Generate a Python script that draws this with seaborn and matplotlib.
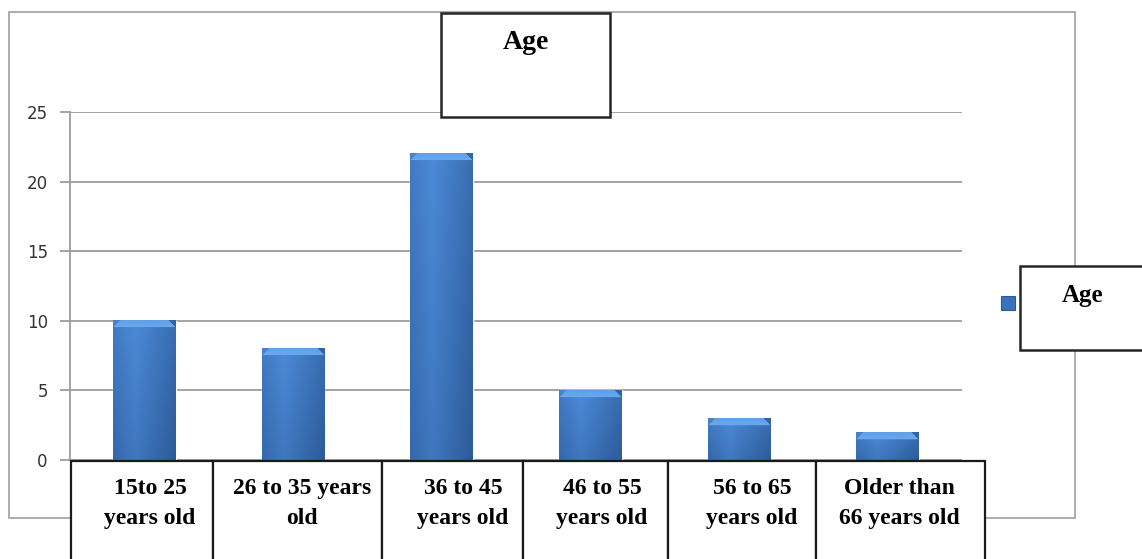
import numpy as np
import pandas as pd
import matplotlib
matplotlib.use("Agg")
import matplotlib.pyplot as plt
from matplotlib.patches import Rectangle
import seaborn as sns

# ---- data ----
categories = ["15to 25\nyears old", "26 to 35 years\nold", "36 to 45\nyears old",
              "46 to 55\nyears old", "56 to 65\nyears old", "Older than\n66 years old"]
values = [10, 8, 22, 5, 3, 2]
yticks = [0, 5, 10, 15, 20, 25]
series_name = "Age"
title = "Age"

W, H = 1142, 559
sns.set_style("white")
plt.rcParams["font.family"] = ["DejaVu Sans"]

fig = plt.figure(figsize=(W / 100, H / 100), dpi=100)
fig.patch.set_facecolor("white")

def fx(px):
    return px / W

def fy(py):
    return 1 - py / H

# outer chart border
fig.add_artist(Rectangle((fx(9), fy(518)), fx(1075) - fx(9), fy(12) - fy(518),
                         transform=fig.transFigure, fill=False,
                         edgecolor="#a6a6a6", lw=1.3, zorder=0))

ax = fig.add_axes([fx(70), fy(460), fx(962) - fx(70), fy(112) - fy(460)])
ax.set_facecolor("none")

df = pd.DataFrame({"cat": categories, "val": values})
sns.barplot(data=df, x="cat", y="val", order=categories, color="#3a72bb",
            width=0.42, ax=ax, zorder=3, saturation=1)

# gradient shading for the bars (with a soft bevel at the top)
light = np.array([0x4c, 0x8a, 0xd8]) / 255
dark = np.array([0x2c, 0x5b, 0x99]) / 255
bevel = np.array([0x68, 0xa8, 0xec]) / 255
px_per_unit = (460 - 112) / 25.0
bar_px_w = 62.0
for p in list(ax.patches):
    x0, y0 = p.get_x(), p.get_y()
    w, h = p.get_width(), p.get_height()
    if h <= 0:
        continue
    ny = max(int(h * px_per_unit), 2)
    nx = 62
    u = np.linspace(0, 1, nx)
    v = np.linspace(0, 1, ny)
    hprof = 1 - np.abs(u - 0.35) / 0.65
    t = 0.6 * hprof[None, :] + 0.4 * v[:, None]
    img = dark + (light - dark) * t[..., None]
    # trapezoid bevel, ~7 px tall
    bev_px = 7
    for k in range(min(bev_px, ny)):
        row = ny - 1 - k
        inset = bev_px - k
        frac = (k + 1) / bev_px
        c = bevel * (0.75 + 0.25 * frac) + img[row, nx // 2] * (0.25 - 0.25 * frac)
        img[row, inset:nx - inset] = c
        img[row, :inset] = img[row, :inset] * 0.85 + bevel * 0.15
        img[row, nx - inset:] = img[row, nx - inset:] * 0.9
    ax.imshow(np.clip(img, 0, 1), extent=(x0, x0 + w, y0, y0 + h), origin="lower",
              aspect="auto", zorder=4, clip_path=p, interpolation="bilinear")

ax.set_xlim(-0.5, len(categories) - 0.5)
ax.set_ylim(0, 25)
ax.set_yticks(yticks)
ax.set_yticklabels([str(t) for t in yticks])
ax.set_xticks([])
ax.set_xlabel("")
ax.set_ylabel("")
ax.grid(False)
for y in yticks:
    ax.axhline(y, color="#9c9c9c", lw=1.3, zorder=1)
for s in ["top", "right", "bottom"]:
    ax.spines[s].set_visible(False)
ax.spines["left"].set_color("#9c9c9c")
ax.spines["left"].set_linewidth(1.3)
ax.tick_params(axis="y", length=7, width=1.3, color="#9c9c9c", pad=9,
               labelsize=12, labelcolor="#333333", left=True)

# category label boxes
box_edges = [71, 213, 382, 523, 668, 816, 985]
text_x = [150, 302, 463, 602, 752, 899]
serif = ["Liberation Serif", "DejaVu Serif"]
for i, lab in enumerate(categories):
    l, r = box_edges[i], box_edges[i + 1]
    fig.add_artist(Rectangle((fx(l), fy(580)), fx(r) - fx(l), fy(461) - fy(580),
                             transform=fig.transFigure, facecolor="white",
                             edgecolor="#1a1a1a", lw=1.6, zorder=5))
    lines = lab.split("\n")
    for j, line in enumerate(lines):
        fig.text(fx(text_x[i]), fy(494 + 30 * j), line, ha="center", va="baseline",
                 fontsize=17, fontweight="bold", family=serif, color="black", zorder=6)

# title box
fig.add_artist(Rectangle((fx(441), fy(117)), fx(610) - fx(441), fy(13) - fy(117),
                         transform=fig.transFigure, facecolor="white",
                         edgecolor="#262626", lw=1.8, zorder=5))
fig.text(fx(526), fy(49), title, ha="center", va="baseline", fontsize=20,
         fontweight="bold", family=serif, color="black", zorder=6)

# legend
fig.add_artist(Rectangle((fx(1020), fy(350)), fx(1160) - fx(1020), fy(266) - fy(350),
                         transform=fig.transFigure, facecolor="white",
                         edgecolor="#262626", lw=1.8, zorder=5))
fig.add_artist(Rectangle((fx(1001), fy(310)), fx(1015) - fx(1001), fy(296) - fy(310),
                         transform=fig.transFigure, facecolor="#3a72bb",
                         edgecolor="#2b5a98", lw=0.8, zorder=5))
fig.text(fx(1083), fy(302), series_name, ha="center", va="baseline", fontsize=18,
         fontweight="bold", family=serif, color="black", zorder=6)

fig.savefig("out.png", dpi=100)
